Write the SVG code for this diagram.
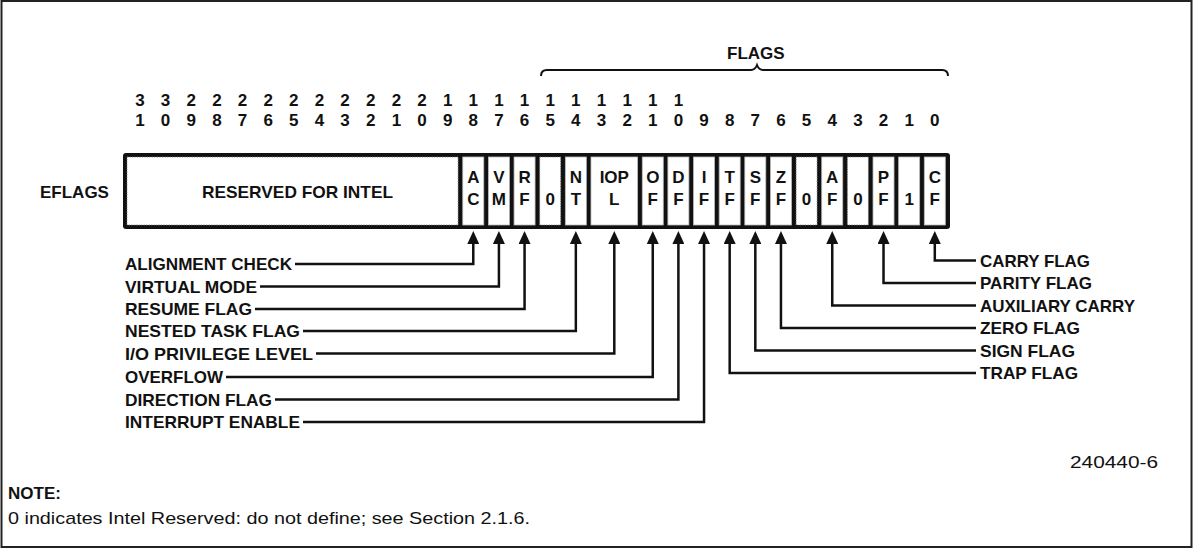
<svg xmlns="http://www.w3.org/2000/svg" width="1198" height="550" viewBox="0 0 1198 550">
<style>
.t{font-family:"Liberation Sans",Arial,sans-serif;font-weight:bold;font-size:17px;fill:#111}
.n{font-family:"Liberation Sans",Arial,sans-serif;font-size:17px;fill:#111}
.d{font-family:"Liberation Sans",Arial,sans-serif;font-weight:bold;font-size:17px;fill:#111;text-anchor:middle}
.c{fill:#fff;stroke:#bbb;stroke-width:0.8}
.r{fill:#fff;stroke:#777;stroke-width:1;stroke-dasharray:1 1.5}
.w{fill:none;stroke:#111;stroke-width:2.5}
</style>
<defs>
<marker id="ah" markerUnits="userSpaceOnUse" viewBox="0 0 13 12" markerWidth="13" markerHeight="12" refX="8" refY="6" orient="auto">
<path d="M0,0 L13,6 L0,12 z" fill="#111"/>
</marker>
</defs>
<rect x="1.5" y="1" width="1190" height="546" fill="#fff" stroke="#222" stroke-width="2"/>

<g id="title">
<text class="t" x="727" y="59">FLAGS</text>
<path d="M541,76 Q541,70 547,70 L751,70 Q755,70 757,65 Q759,70 763,70 L942,70 Q948,70 948,76" fill="none" stroke="#111" stroke-width="2"/>
</g>

<g id="bitnumbers">
<text class="d" x="139.96" y="105.5">3</text><text class="d" x="139.96" y="126">1</text>
<text class="d" x="165.6" y="105.5">3</text><text class="d" x="165.6" y="126">0</text>
<text class="d" x="191.24" y="105.5">2</text><text class="d" x="191.24" y="126">9</text>
<text class="d" x="216.88" y="105.5">2</text><text class="d" x="216.88" y="126">8</text>
<text class="d" x="242.52" y="105.5">2</text><text class="d" x="242.52" y="126">7</text>
<text class="d" x="268.16" y="105.5">2</text><text class="d" x="268.16" y="126">6</text>
<text class="d" x="293.8" y="105.5">2</text><text class="d" x="293.8" y="126">5</text>
<text class="d" x="319.44" y="105.5">2</text><text class="d" x="319.44" y="126">4</text>
<text class="d" x="345.08" y="105.5">2</text><text class="d" x="345.08" y="126">3</text>
<text class="d" x="370.72" y="105.5">2</text><text class="d" x="370.72" y="126">2</text>
<text class="d" x="396.36" y="105.5">2</text><text class="d" x="396.36" y="126">1</text>
<text class="d" x="422" y="105.5">2</text><text class="d" x="422" y="126">0</text>
<text class="d" x="447.64" y="105.5">1</text><text class="d" x="447.64" y="126">9</text>
<text class="d" x="473.28" y="105.5">1</text><text class="d" x="473.28" y="126">8</text>
<text class="d" x="498.92" y="105.5">1</text><text class="d" x="498.92" y="126">7</text>
<text class="d" x="524.56" y="105.5">1</text><text class="d" x="524.56" y="126">6</text>
<text class="d" x="550.2" y="105.5">1</text><text class="d" x="550.2" y="126">5</text>
<text class="d" x="575.84" y="105.5">1</text><text class="d" x="575.84" y="126">4</text>
<text class="d" x="601.48" y="105.5">1</text><text class="d" x="601.48" y="126">3</text>
<text class="d" x="627.12" y="105.5">1</text><text class="d" x="627.12" y="126">2</text>
<text class="d" x="652.76" y="105.5">1</text><text class="d" x="652.76" y="126">1</text>
<text class="d" x="678.4" y="105.5">1</text><text class="d" x="678.4" y="126">0</text>
<text class="d" x="704.04" y="126">9</text>
<text class="d" x="729.68" y="126">8</text>
<text class="d" x="755.32" y="126">7</text>
<text class="d" x="780.96" y="126">6</text>
<text class="d" x="806.6" y="126">5</text>
<text class="d" x="832.24" y="126">4</text>
<text class="d" x="857.88" y="126">3</text>
<text class="d" x="883.52" y="126">2</text>
<text class="d" x="909.16" y="126">1</text>
<text class="d" x="934.8" y="126">0</text>
</g>

<g id="eflags-label"><text class="t" x="40" y="198">EFLAGS</text></g>

<g id="register">
<rect x="123" y="153" width="827" height="76" rx="3" fill="#111"/>
<rect class="r" x="127" y="157" width="331.1" height="68"/>
<text class="t" x="202" y="198" textLength="191" lengthAdjust="spacingAndGlyphs">RESERVED FOR INTEL</text>
</g>
<g id="cell-AC"><rect class="c" x="462.78" y="157" width="21" height="68"/><text class="d" x="473.28" y="183">A</text><text class="d" x="473.28" y="204.5">C</text></g>
<g id="cell-VM"><rect class="c" x="488.42" y="157" width="21" height="68"/><text class="d" x="498.92" y="183">V</text><text class="d" x="498.92" y="204.5">M</text></g>
<g id="cell-RF"><rect class="c" x="514.06" y="157" width="21" height="68"/><text class="d" x="524.56" y="183">R</text><text class="d" x="524.56" y="204.5">F</text></g>
<g id="cell-15"><rect class="r" x="539.7" y="157" width="21" height="68"/><text class="d" x="550.2" y="204.5">0</text></g>
<g id="cell-NT"><rect class="c" x="565.34" y="157" width="21" height="68"/><text class="d" x="575.84" y="183">N</text><text class="d" x="575.84" y="204.5">T</text></g>
<g id="cell-IOPL"><rect class="c" x="590.98" y="157" width="46.64" height="68"/><text class="d" x="614.3" y="183">IOP</text><text class="d" x="614.3" y="204.5">L</text></g>
<g id="cell-OF"><rect class="c" x="642.26" y="157" width="21" height="68"/><text class="d" x="652.76" y="183">O</text><text class="d" x="652.76" y="204.5">F</text></g>
<g id="cell-DF"><rect class="c" x="667.9" y="157" width="21" height="68"/><text class="d" x="678.4" y="183">D</text><text class="d" x="678.4" y="204.5">F</text></g>
<g id="cell-IF"><rect class="c" x="693.54" y="157" width="21" height="68"/><text class="d" x="704.04" y="183">I</text><text class="d" x="704.04" y="204.5">F</text></g>
<g id="cell-TF"><rect class="c" x="719.18" y="157" width="21" height="68"/><text class="d" x="729.68" y="183">T</text><text class="d" x="729.68" y="204.5">F</text></g>
<g id="cell-SF"><rect class="c" x="744.82" y="157" width="21" height="68"/><text class="d" x="755.32" y="183">S</text><text class="d" x="755.32" y="204.5">F</text></g>
<g id="cell-ZF"><rect class="c" x="770.46" y="157" width="21" height="68"/><text class="d" x="780.96" y="183">Z</text><text class="d" x="780.96" y="204.5">F</text></g>
<g id="cell-5"><rect class="r" x="796.1" y="157" width="21" height="68"/><text class="d" x="806.6" y="204.5">0</text></g>
<g id="cell-AF"><rect class="c" x="821.74" y="157" width="21" height="68"/><text class="d" x="832.24" y="183">A</text><text class="d" x="832.24" y="204.5">F</text></g>
<g id="cell-3"><rect class="r" x="847.38" y="157" width="21" height="68"/><text class="d" x="857.88" y="204.5">0</text></g>
<g id="cell-PF"><rect class="c" x="873.02" y="157" width="21" height="68"/><text class="d" x="883.52" y="183">P</text><text class="d" x="883.52" y="204.5">F</text></g>
<g id="cell-1"><rect class="c" x="898.66" y="157" width="21" height="68"/><text class="d" x="909.16" y="204.5">1</text></g>
<g id="cell-CF"><rect class="c" x="924.3" y="157" width="21" height="68"/><text class="d" x="934.8" y="183">C</text><text class="d" x="934.8" y="204.5">F</text></g>

<g id="connectors">
<path class="w" marker-end="url(#ah)" d="M295,264 H473.28 V236"/>
<path class="w" marker-end="url(#ah)" d="M260,286.5 H498.92 V236"/>
<path class="w" marker-end="url(#ah)" d="M255,309 H524.56 V236"/>
<path class="w" marker-end="url(#ah)" d="M303,331 H575.84 V236"/>
<path class="w" marker-end="url(#ah)" d="M316,353.5 H614.3 V236"/>
<path class="w" marker-end="url(#ah)" d="M226,377 H652.76 V236"/>
<path class="w" marker-end="url(#ah)" d="M275,399.5 H678.4 V236"/>
<path class="w" marker-end="url(#ah)" d="M303,422 H704.04 V236"/>
<path class="w" marker-end="url(#ah)" d="M976,373 H729.68 V236"/>
<path class="w" marker-end="url(#ah)" d="M976,350.5 H755.32 V236"/>
<path class="w" marker-end="url(#ah)" d="M976,328 H780.96 V236"/>
<path class="w" marker-end="url(#ah)" d="M976,305.5 H832.24 V236"/>
<path class="w" marker-end="url(#ah)" d="M976,283 H883.52 V236"/>
<path class="w" marker-end="url(#ah)" d="M976,260.5 H934.8 V236"/>
</g>

<g id="labels-left">
<text class="t" x="125" y="270" textLength="167" lengthAdjust="spacingAndGlyphs">ALIGNMENT CHECK</text>
<text class="t" x="125" y="292.5" textLength="132" lengthAdjust="spacingAndGlyphs">VIRTUAL MODE</text>
<text class="t" x="125" y="315" textLength="127" lengthAdjust="spacingAndGlyphs">RESUME FLAG</text>
<text class="t" x="125" y="337" textLength="175" lengthAdjust="spacingAndGlyphs">NESTED TASK FLAG</text>
<text class="t" x="125" y="359.5" textLength="188" lengthAdjust="spacingAndGlyphs">I/O PRIVILEGE LEVEL</text>
<text class="t" x="125" y="383" textLength="98" lengthAdjust="spacingAndGlyphs">OVERFLOW</text>
<text class="t" x="125" y="405.5" textLength="147" lengthAdjust="spacingAndGlyphs">DIRECTION FLAG</text>
<text class="t" x="125" y="428" textLength="175" lengthAdjust="spacingAndGlyphs">INTERRUPT ENABLE</text>
</g>

<g id="labels-right">
<text class="t" x="980" y="266.5" textLength="110" lengthAdjust="spacingAndGlyphs">CARRY FLAG</text>
<text class="t" x="980" y="289" textLength="112" lengthAdjust="spacingAndGlyphs">PARITY FLAG</text>
<text class="t" x="980" y="311.5" textLength="155" lengthAdjust="spacingAndGlyphs">AUXILIARY CARRY</text>
<text class="t" x="980" y="334" textLength="100" lengthAdjust="spacingAndGlyphs">ZERO FLAG</text>
<text class="t" x="980" y="356.5" textLength="95" lengthAdjust="spacingAndGlyphs">SIGN FLAG</text>
<text class="t" x="980" y="379" textLength="98" lengthAdjust="spacingAndGlyphs">TRAP FLAG</text>
</g>

<g id="footer">
<text class="n" x="1070" y="468" textLength="88" lengthAdjust="spacingAndGlyphs">240440-6</text>
<text class="t" x="8" y="499">NOTE:</text>
<text class="n" x="8" y="524" textLength="522" lengthAdjust="spacingAndGlyphs">0 indicates Intel Reserved: do not define; see Section 2.1.6.</text>
</g>
</svg>
